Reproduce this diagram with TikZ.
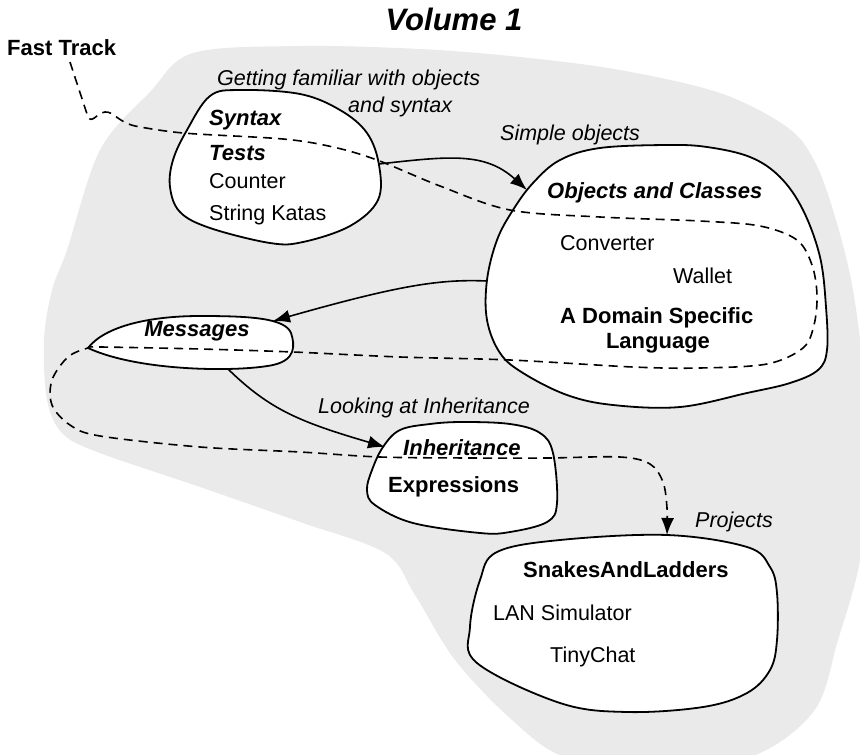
\documentclass[tikz,border=0pt]{standalone}
\usepackage{fontspec}
\setmainfont{Liberation Sans}
\usetikzlibrary{arrows.meta}
\definecolor{bgblob}{RGB}{234,234,234}
\begin{document}
\begin{tikzpicture}[x=1pt,y=-1pt,
  blob/.style={draw=black,fill=white,line width=1.8pt,line join=round},
  flow/.style={line width=1.6pt,-{Latex[length=17pt,width=13pt]}},
  track/.style={line width=1.6pt,dash pattern=on 9pt off 6pt,-{Latex[length=17pt,width=13pt]}},
  txt/.style={font=\fontsize{21.5}{24}\selectfont,inner sep=0pt,anchor=base west},
  lbl/.style={font=\fontsize{21.5}{24}\selectfont\itshape,inner sep=0pt,anchor=base west},
  bx/.style={font=\fontsize{22}{24}\selectfont\bfseries,inner sep=0pt,anchor=base west},
  bix/.style={font=\fontsize{22}{24}\selectfont\bfseries\itshape,inner sep=0pt,anchor=base west}
]
\useasboundingbox (0,0) rectangle (860,755);
% background region
\begin{scope}
\clip (0,0) rectangle (860,755);
\fill[bgblob] plot[smooth cycle,tension=0.55] coordinates {
 (193,53) (300,46) (420,49) (520,57) (620,70) (720,93) (787,127) (815,162)
 (836,220) (853,290) (864,380) (866,470) (860,560) (838,640) (814,711)
 (750,757) (650,765) (565,757) (512,720) (455,660) (415,595) (385,553)
 (300,522) (200,487) (97,452) (62,433) (47,400) (44,340) (52,290) (67,250)
 (100,150) (150,92)};
\end{scope}
% blobs
\draw[blob] plot[smooth cycle,tension=0.6] coordinates {
 (210,96) (240,90) (300,94) (340,110) (367,133) (379,165) (378,200) (350,226)
 (303,242) (270,243) (210,228) (180,212) (170,187) (173,160) (187,130)};
\draw[blob] plot[smooth cycle,tension=0.6] coordinates {
 (560,160) (600,148) (667,145) (707,147) (750,157) (780,177) (803,210) (820,257)
 (826,307) (827,350) (818,370) (790,383) (747,393) (680,407) (613,405) (567,395)
 (523,373) (500,353) (487,320) (487,280) (497,240) (513,210) (533,183)};
\draw[blob] (88,348) .. controls (105,326) and (150,316) .. (200,316)
  .. controls (250,316) and (285,318) .. (291,333)
  .. controls (295,345) and (296,360) .. (273,365)
  .. controls (240,372) and (140,372) .. (88,348) -- cycle;
\draw[blob] plot[smooth cycle,tension=0.6] coordinates {
 (383,447) (400,430) (430,424) (463,422) (510,424) (540,433) (553,453) (557,503)
 (547,522) (510,532) (480,533) (413,523) (375,505) (367,490) (372,470)};
\draw[blob] plot[smooth cycle,tension=0.6] coordinates {
 (480,580) (497,552) (560,540) (667,535) (747,547) (770,567) (777,593) (777,640)
 (770,670) (747,693) (703,707) (627,712) (560,703) (477,663) (470,627)};
% anchor coordinates
\coordinate (synR) at (379,164);
\coordinate (objTL) at (527,190);
\coordinate (objL) at (487,281);
\coordinate (msgTR) at (273,321);
\coordinate (msgB) at (228,369);
\coordinate (inhTL) at (385,447);
\coordinate (ft) at (70,62);
\coordinate (snkT) at (667,535);
% connectors
\draw[flow] (synR) .. controls (450,156) and (485,152) .. (objTL);
\draw[flow] (objL) .. controls (440,279) and (400,285) .. (msgTR);
\draw[flow] (msgB) .. controls (270,410) and (300,422) .. (inhTL);
\draw[track] (ft) -- (88,117) .. controls (92,124) and (97,113) .. (105,112)
  .. controls (113,111) and (118,122) .. (135,126)
  -- plot[smooth,tension=0.55] coordinates {
 (135,126) (183,133) (283,139) (333,147) (377,160) (440,186) (510,210) (600,217)
 (700,221) (760,226) (797,240) (812,265) (817,295) (814,325) (803,348) (767,364)
 (700,368) (633,367) (510,360) (400,357) (293,352) (200,349) (100,347) (88,348)
 (68,357) (52,380) (52,405) (70,425) (100,436) (200,447) (300,452) (380,457)
 (470,458) (547,458) (620,457) (650,464) (663,482) (667,508) (snkT)};
% texts
\node[anchor=base,inner sep=0pt,font=\fontsize{31}{34}\selectfont\bfseries\itshape] (title) at (454,30) {Volume 1};
\node[bx] (fasttrack) at (7,55) {Fast Track};
\node[lbl] (l1a) at (217,85) {Getting familiar with objects};
\node[lbl] (l1b) at (348,112) {and syntax};
\node[lbl] (l2) at (500,140) {Simple objects};
\node[lbl] (l3) at (318,413) {Looking at Inheritance};
\node[lbl] (l4) at (695,527) {Projects};
\node[bix] (syn) at (209,125) {Syntax};
\node[bix] (tests) at (209,160) {Tests};
\node[txt] (counter) at (209,188) {Counter};
\node[txt] (katas) at (209,220) {String Katas};
\node[bix] (objc) at (547,198) {Objects and Classes};
\node[txt] (conv) at (560,250) {Converter};
\node[txt] (wallet) at (673,283) {Wallet};
\node[bx] (dsl) at (560,323) {A Domain Specific};
\node[bx,anchor=base] (lang) at (658,348) {Language};
\node[bix,anchor=base] (msg) at (197,336) {Messages};
\node[bix] (inh) at (403,455) {Inheritance};
\node[bx] (expr) at (388,492) {Expressions};
\node[bx] (snakes) at (523,577) {SnakesAndLadders};
\node[txt] (lan) at (493,620) {LAN Simulator};
\node[txt] (tiny) at (550,662) {TinyChat};
\end{tikzpicture}
\end{document}
